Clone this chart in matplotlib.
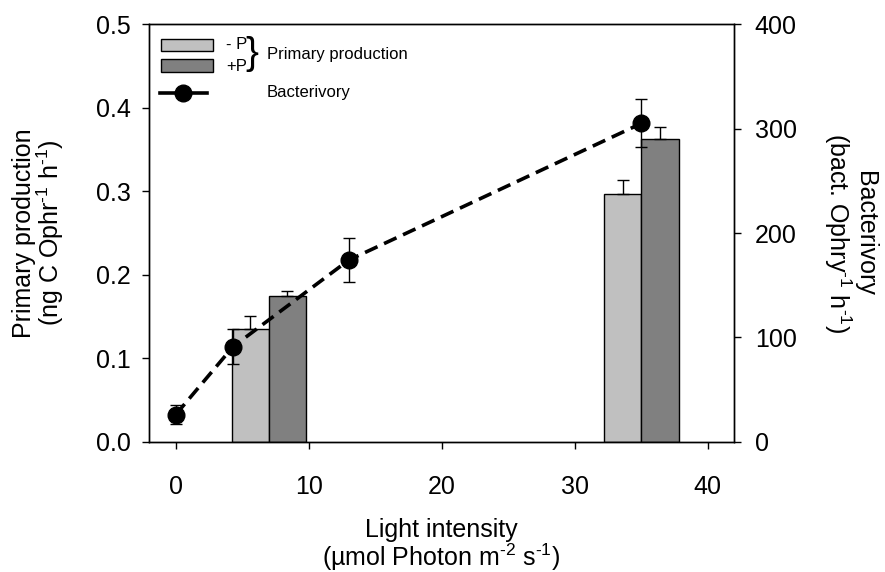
import matplotlib
matplotlib.use("Agg")
import matplotlib.pyplot as plt
from matplotlib.patches import Rectangle
from matplotlib.lines import Line2D

plt.rcParams['font.family'] = ['Liberation Sans', 'DejaVu Sans']
plt.rcParams['mathtext.fontset'] = 'custom'
plt.rcParams['mathtext.rm'] = 'Liberation Sans'
plt.rcParams['mathtext.it'] = 'Liberation Sans'
plt.rcParams['mathtext.default'] = 'regular'

# Data
bar_light = [7, 35]
pp_minusP = [0.135, 0.297]
pp_minusP_err = [0.015, 0.017]
pp_plusP = [0.175, 0.363]
pp_plusP_err = [0.005, 0.014]
bact_light = [0, 4.3, 13, 35]
bact = [26, 91, 174, 305]
bact_err = [9, 17, 21, 23]
xticks = [0, 10, 20, 30, 40]
yticks_left = [0.0, 0.1, 0.2, 0.3, 0.4, 0.5]
yticks_right = [0, 100, 200, 300, 400]

bar_w = 2.8
c_minus = '#c0c0c0'
c_plus = '#808080'

fig = plt.figure(figsize=(8.85, 5.72), dpi=100)
ax = fig.add_axes([0.1678, 0.2278, 0.6616, 0.7297])
ax2 = ax.twinx()

xm = [x - bar_w / 2 for x in bar_light]
xp = [x + bar_w / 2 for x in bar_light]
ax.bar(xm, pp_minusP, width=bar_w, color=c_minus, edgecolor='black', linewidth=1.0, zorder=2)
ax.bar(xp, pp_plusP, width=bar_w, color=c_plus, edgecolor='black', linewidth=1.0, zorder=2)
ax.errorbar(xm, pp_minusP, yerr=[[0, 0], pp_minusP_err], fmt='none', ecolor='black',
            elinewidth=1.0, capsize=4.2, capthick=1.0, zorder=3)
ax.errorbar(xp, pp_plusP, yerr=[[0, 0], pp_plusP_err], fmt='none', ecolor='black',
            elinewidth=1.0, capsize=4.2, capthick=1.0, zorder=3)

ax2.errorbar(bact_light, bact, yerr=bact_err, fmt='none', ecolor='black',
             elinewidth=1.0, capsize=4.5, capthick=1.0, zorder=3)
ax2.plot(bact_light, bact, color='black', linestyle=(0, (3.8, 2.0)), linewidth=2.6,
         marker='o', markersize=12, markerfacecolor='black', markeredgecolor='black', zorder=4)

ax.set_xlim(-2.05, 41.97)
ax.set_ylim(0, 0.5)
ax2.set_ylim(0, 400)
ax.set_xticks(xticks)
ax.set_xticklabels([str(v) for v in xticks])
ax.set_yticks(yticks_left)
ax.set_yticklabels([f"{v:.1f}" for v in yticks_left])
ax2.set_yticks(yticks_right)
ax2.set_yticklabels([str(v) for v in yticks_right])

for a in (ax, ax2):
    a.tick_params(direction='out', length=5, width=1.0, labelsize=18, colors='black')
    for s in a.spines.values():
        s.set_linewidth(1.0)
ax.tick_params(axis='x', pad=19)
ax.tick_params(axis='y', pad=8)
ax2.tick_params(axis='y', pad=10)

ax.set_xlabel('Light intensity\n(\u00b5mol Photon m$^{\\text{-2}}$ s$^{\\text{-1}}$)', fontsize=18,
              labelpad=14, linespacing=0.95)
ax.set_ylabel('Primary production\n(ng C Ophr$^{\\text{-1}}$ h$^{\\text{-1}}$)', fontsize=18,
              labelpad=21, linespacing=0.97)
ax2.set_ylabel('Bacterivory\n(bact. Ophry$^{\\text{-1}}$ h$^{\\text{-1}}$)', fontsize=18,
               rotation=270, labelpad=58, linespacing=1.0)

# Legend (manual, axes coordinates)
T = ax.transAxes
ax.add_patch(Rectangle((0.0213, 0.9367), 0.0894, 0.0274, transform=T, facecolor=c_minus,
                       edgecolor='black', linewidth=1.0, zorder=5, clip_on=False))
ax.add_patch(Rectangle((0.0213, 0.8864), 0.0894, 0.0297, transform=T, facecolor=c_plus,
                       edgecolor='black', linewidth=1.0, zorder=5, clip_on=False))
ax.text(0.1324, 0.952, '- P', transform=T, fontsize=12, va='center', ha='left')
ax.text(0.1324, 0.900, '+P', transform=T, fontsize=12, va='center', ha='left')
ax.text(0.166, 0.928, '}', transform=T, fontsize=28, va='center', ha='left')
ax.text(0.2024, 0.9265, 'Primary production', transform=T, fontsize=12, va='center', ha='left')
ax.add_line(Line2D([0.0196, 0.0995], [0.8361, 0.8361], transform=T, color='black',
                   linewidth=2.6, zorder=5))
ax.add_line(Line2D([0.0595], [0.8361], transform=T, color='black', marker='o',
                   markersize=12, zorder=6))
ax.text(0.2019, 0.8361, 'Bacterivory', transform=T, fontsize=12, va='center', ha='left')

fig.savefig('out.png', dpi=100)
